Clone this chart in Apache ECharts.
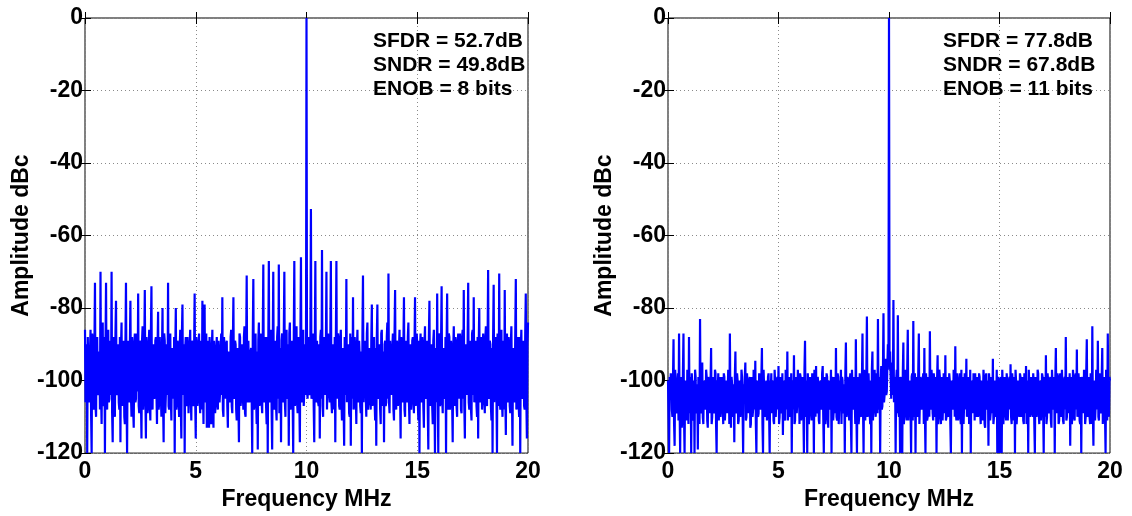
<!DOCTYPE html>
<html>
<head>
<meta charset="utf-8">
<title>ADC output spectrum</title>
<script src="https://cdn.jsdelivr.net/npm/echarts@6/dist/echarts.min.js"></script>
<style>
  html, body { margin: 0; padding: 0; background: #ffffff; }
  #chart { width: 1132px; height: 516px; }
</style>
</head>
<body>
<div id="chart"></div>
<script>
// FFT bin spacing of both spectra (MHz); 801 bins cover 0 .. 20 MHz
const BIN_MHZ = 0.025;
const xTickLabels = [0, 5, 10, 15, 20];
const yTickLabels = [0, -20, -40, -60, -80, -100, -120];

// Spectrum 1: amplitude per bin (dBc), one row = 0.5 MHz
const ampLeft = [
  -86, -106, -104, -90, -120, -88, -88, -104, -106, -92, -86, -109, -120, -87, -90, -105, -108, -91, -73, -107,
  -110, -89, -88, -103, -104, -93, -92, -108, -70, -104, -112, -90, -84, -107, -106, -88, -120, -91, -73, -105,
  -108, -90, -86, -106, -105, -89, -91, -104, -70, -109, -117, -92, -88, -105, -110, -87, -78, -103, -104, -91,
  -90, -106, -108, -88, -117, -91, -84, -107, -103, -89, -94, -110, -112, -90, -73, -104, -120, -92, -89, -105,
  -106, -91, -78, -104, -110, -88, -92, -108, -113, -90, -87, -106, -105, -87, -95, -103, -76, -107, -109, -89,
  -90, -105, -116, -89, -85, -108, -104, -92, -75, -104, -116, -88, -93, -109, -107, -90, -86, -106, -111, -87,
  -74, -107, -108, -90, -91, -105, -104, -89, -88, -103, -112, -91, -81, -108, -106, -88, -94, -104, -110, -92,
  -80, -106, -117, -87, -89, -109, -104, -90, -95, -104, -73, -107, -108, -89, -87, -105, -111, -91, -92, -103,
  -105, -88, -120, -92, -80, -108, -106, -89, -90, -105, -110, -91, -86, -107, -116, -87, -79, -104, -104, -90,
  -120, -91, -88, -106, -107, -88, -93, -109, -103, -90, -86, -104, -111, -89, -90, -107, -106, -92, -76, -105,
  -116, -88, -91, -107, -104, -90, -87, -105, -109, -89, -93, -108, -78, -103, -112, -91, -79, -106, -105, -87,
  -113, -90, -89, -105, -113, -88, -94, -107, -112, -91, -86, -104, -113, -89, -92, -109, -106, -92, -88, -106,
  -108, -89, -95, -106, -103, -91, -87, -104, -77, -108, -110, -88, -91, -105, -105, -90, -89, -107, -113, -92,
  -93, -104, -106, -88, -86, -107, -109, -90, -77, -105, -104, -89, -90, -108, -111, -91, -92, -106, -117, -87,
  -88, -107, -105, -90, -94, -104, -108, -88, -85, -109, -110, -91, -71, -105, -106, -89, -89, -106, -103, -92,
  -91, -105, -120, -88, -72, -108, -107, -90, -87, -104, -112, -92, -119, -89, -84, -107, -105, -87, -90, -106,
  -109, -89, -68, -105, -106, -91, -88, -107, -112, -88, -120, -90, -67, -106, -104, -87, -86, -108, -119, -92,
  -70, -104, -108, -90, -89, -107, -111, -88, -85, -105, -68, -109, -106, -91, -117, -89, -87, -106, -103, -87,
  -70, -106, -110, -88, -86, -104, -105, -90, -118, -87, -84, -108, -107, -91, -89, -105, -120, -89, -67, -107,
  -104, -88, -85, -106, -109, -90, -88, -105, -117, -89, -66, -104, -106, -87, -86, -107, -103, -91, -90, -104,
  0, -103, -105, -89, -88, -104, -102, -90, -52.7, -105, -104, -88, -87, -107, -117, -91, -67, -105, -106, -89,
  -89, -106, -107, -90, -116, -88, -86, -105, -64, -107, -110, -89, -88, -104, -104, -91, -70, -108, -108, -87,
  -87, -104, -106, -89, -67, -106, -109, -91, -90, -108, -103, -88, -117, -90, -67, -105, -105, -87, -89, -107,
  -108, -89, -86, -105, -111, -91, -92, -107, -118, -88, -88, -104, -72, -106, -106, -90, -90, -109, -110, -87,
  -118, -90, -88, -105, -77, -108, -107, -88, -91, -104, -112, -91, -86, -106, -104, -89, -93, -107, -109, -92,
  -120, -88, -71, -106, -106, -90, -89, -104, -110, -87, -84, -108, -105, -91, -92, -105, -108, -89, -79, -107,
  -104, -89, -88, -106, -111, -91, -118, -88, -79, -104, -105, -90, -90, -108, -112, -87, -86, -105, -107, -92,
  -117, -90, -89, -107, -106, -88, -84, -105, -70.5, -106, -109, -89, -93, -104, -104, -91, -87, -108, -111, -87,
  -75, -105, -108, -89, -90, -107, -105, -91, -86, -104, -116, -88, -92, -106, -104, -90, -77, -108, -110, -92,
  -89, -104, -106, -88, -84, -106, -112, -90, -91, -108, -104, -89, -88, -105, -109, -91, -77, -107, -105, -87,
  -90, -106, -111, -89, -120, -91, -87, -104, -106, -88, -93, -107, -113, -90, -85, -105, -104, -92, -89, -108,
  -119, -88, -78, -105, -107, -90, -90, -107, -112, -89, -86, -104, -120, -91, -92, -106, -76, -104, -120, -87,
  -88, -107, -106, -89, -74, -105, -109, -91, -91, -104, -105, -88, -120, -90, -76, -106, -108, -87, -88, -108,
  -104, -89, -92, -106, -117, -91, -85, -104, -107, -88, -90, -107, -110, -90, -87, -105, -105, -87, -93, -108,
  -109, -88, -86, -105, -75, -107, -116, -90, -90, -104, -104, -89, -73, -106, -108, -91, -89, -108, -111, -87,
  -86, -104, -77, -106, -105, -89, -91, -107, -110, -88, -116, -90, -80, -105, -106, -91, -88, -108, -104, -87,
  -92, -105, -109, -88, -85, -106, -107, -90, -69.5, -104, -105, -89, -90, -107, -111, -91, -120, -88, -73.6, -106,
  -106, -90, -88, -104, -120, -87, -92, -107, -70.5, -105, -108, -89, -86, -106, -110, -91, -89, -108, -75, -104,
  -115, -89, -87, -105, -106, -88, -91, -107, -109, -90, -85, -104, -118, -91, -93, -106, -104, -87, -72, -108,
  -107, -90, -88, -106, -110, -88, -120, -91, -86, -104, -105, -89, -91, -107, -108, -87, -76, -105, -116, -90,
  -84
];

// Spectrum 2: amplitude per bin (dBc), one row = 0.5 MHz
const ampRight = [
  -100, -110, -120, -99, -104, -98, -99, -108, -110, -100, -88.6, -112, -118, -97, -101, -109, -108, -101, -98, -111,
  -87, -107, -120, -99, -102, -113, -109, -98, -87, -110, -120, -100, -100, -108, -111, -97, -99, -112, -88, -109,
  -107, -99, -120, -98, -101, -111, -110, -100, -120, -97, -99, -109, -108, -101, -119, -99, -100, -112, -83, -108,
  -109, -98, -95, -110, -112, -100, -102, -108, -107, -97, -99, -111, -113, -99, -101, -109, -106, -101, -91, -112,
  -110, -99, -100, -109, -108, -97, -98, -112, -120, -100, -103, -98, -111, -101, -99, -110, -106, -99, -101, -108,
  -112, -98, -99, -111, -107, -100, -102, -109, -109, -97, -100, -112, -87, -108, -113, -99, -101, -110, -106, -101,
  -117, -99, -92, -109, -108, -98, -100, -112, -111, -100, -102, -110, -106, -97, -99, -108, -120, -101, -103, -99,
  -95, -111, -110, -98, -101, -109, -107, -100, -99, -113, -112, -99, -102, -110, -108, -97, -100, -108, -94.5, -112,
  -120, -100, -101, -110, -109, -98, -99, -108, -106, -99, -91, -112, -120, -97, -102, -109, -110, -101, -100, -111,
  -107, -99, -98, -109, -120, -100, -103, -98, -109, -101, -100, -111, -112, -97, -101, -110, -106, -100, -99, -108,
  -96, -112, -110, -99, -102, -109, -108, -98, -115, -100, -100, -110, -111, -97, -101, -108, -92, -111, -107, -99,
  -99, -110, -109, -98, -120, -100, -102, -108, -93, -112, -111, -99, -100, -109, -106, -97, -103, -101, -112, -98,
  -99, -111, -107, -99, -101, -109, -120, -97, -89, -110, -110, -100, -120, -98, -102, -112, -108, -99, -100, -108,
  -111, -98, -103, -100, -120, -97, -99, -110, -96, -109, -108, -99, -101, -111, -112, -101, -100, -108, -107, -98,
  -96, -110, -120, -99, -102, -112, -109, -98, -99, -109, -113, -100, -101, -108, -106, -97, -120, -99, -100, -111,
  -108, -99, -102, -109, -91, -110, -111, -98, -99, -112, -107, -100, -103, -97, -112, -99, -100, -108, -109, -101,
  -120, -98, -89.5, -110, -108, -99, -100, -109, -111, -100, -98, -111, -120, -97, -102, -108, -107, -99, -99, -112,
  -88.6, -109, -120, -99, -101, -112, -110, -98, -98, -110, -108, -100, -87, -108, -120, -97, -100, -111, -111, -99,
  -82.3, -110, -109, -98, -98, -109, -112, -100, -120, -97, -92, -111, -106, -99, -97, -108, -110, -98, -99, -109,
  -83, -108, -108, -99, -120, -100, -96, -108, -107, -98, -81.4, -106, -104, -97, -94, -104, -103, -96, -90, -96,
  0, -97, -92, -99, -105, -96, -95, -104, -77.8, -106, -106, -99, -120, -100, -97, -109, -82, -108, -110, -99,
  -120, -100, -99, -110, -120, -98, -89.5, -112, -108, -99, -97, -109, -111, -97, -86, -111, -104, -100, -100, -108,
  -120, -99, -98, -111, -83.6, -109, -110, -98, -120, -100, -99, -110, -107, -97, -87, -112, -112, -99, -100, -108,
  -108, -100, -98, -112, -91, -109, -120, -98, -101, -111, -110, -99, -99, -110, -86.4, -108, -106, -97, -101, -109,
  -111, -98, -100, -110, -107, -99, -120, -100, -93, -112, -109, -97, -99, -109, -112, -99, -101, -111, -106, -98,
  -98, -109, -93, -111, -110, -99, -102, -110, -108, -98, -100, -112, -120, -100, -101, -108, -107, -97, -99, -110,
  -90.5, -109, -111, -98, -101, -111, -108, -100, -98, -110, -112, -97, -120, -99, -100, -112, -106, -98, -102, -108,
  -94, -110, -109, -99, -100, -112, -111, -97, -120, -100, -101, -109, -107, -98, -99, -111, -98, -108, -110, -99,
  -101, -110, -108, -98, -99, -109, -112, -100, -102, -111, -106, -97, -100, -112, -113, -99, -98, -108, -107, -100,
  -118, -98, -101, -111, -109, -99, -99, -109, -94, -112, -110, -100, -102, -110, -107, -97, -120, -99, -100, -108,
  -120, -100, -99, -110, -120, -97, -102, -112, -108, -99, -100, -109, -111, -98, -101, -111, -106, -100, -99, -108,
  -95.5, -110, -112, -98, -101, -111, -107, -99, -120, -97, -100, -112, -109, -100, -102, -109, -110, -98, -99, -110,
  -107, -99, -101, -111, -112, -98, -100, -109, -96, -112, -108, -100, -120, -97, -102, -110, -109, -99, -99, -108,
  -110, -98, -101, -112, -120, -99, -100, -110, -107, -97, -98, -109, -112, -100, -102, -111, -106, -98, -99, -108,
  -120, -99, -101, -110, -93, -112, -110, -98, -100, -109, -108, -100, -99, -111, -113, -97, -101, -108, -107, -99,
  -120, -100, -91, -109, -109, -98, -100, -112, -111, -99, -98, -110, -106, -97, -102, -111, -112, -100, -99, -108,
  -88, -111, -110, -99, -101, -109, -107, -98, -118, -100, -99, -112, -109, -97, -100, -110, -111, -99, -98, -108,
  -91.4, -110, -108, -98, -101, -111, -112, -99, -120, -100, -99, -109, -107, -97, -100, -112, -110, -98, -88.6, -110,
  -109, -99, -99, -110, -112, -98, -101, -112, -85, -109, -118, -100, -100, -111, -107, -97, -98, -108, -89, -110,
  -111, -98, -100, -109, -108, -99, -91, -112, -112, -100, -99, -110, -120, -97, -101, -111, -87, -108, -110, -99,
  -100
];

// Measured dynamic figures of each spectrum
const sndrDb = [49.8, 67.8];
const enobBits = [8, 11];

const FONT = '"Liberation Sans", Arial, Helvetica, sans-serif';
const chart = echarts.init(document.getElementById('chart'), null, { renderer: 'canvas' });

// spur-free dynamic range: carrier at 0 dBc, largest remaining bin is the worst spur
function sfdrOf(amps) {
  const sorted = amps.slice().sort((a, b) => b - a);
  return -sorted[1];
}

function toPoints(amps) {
  return amps.map((a, i) => [i * BIN_MHZ, a]);
}

const tickStyle = { show: true, inside: true, length: 6, lineStyle: { color: '#000', width: 1 } };
const labelStyle = { color: '#000', fontFamily: FONT, fontWeight: 'bold', fontSize: 23 };
const gridLine = { show: true, lineStyle: { color: '#8a8a8a', type: [1, 3], width: 1 } };

function xAxisPair(gridIndex) {
  const base = {
    type: 'value', gridIndex,
    min: xTickLabels[0], max: xTickLabels[xTickLabels.length - 1],
    interval: xTickLabels[1] - xTickLabels[0],
    axisLine: { show: false }, axisTick: tickStyle
  };
  return [
    Object.assign({}, base, {
      position: 'bottom',
      name: 'Frequency MHz', nameLocation: 'middle', nameGap: 29,
      nameTextStyle: { color: '#000', fontFamily: FONT, fontWeight: 'bold', fontSize: 23 },
      axisLabel: Object.assign({ margin: 7 }, labelStyle),
      splitLine: gridLine
    }),
    Object.assign({}, base, { position: 'top', axisLabel: { show: false }, splitLine: { show: false } })
  ];
}

function yAxisPair(gridIndex) {
  const base = {
    type: 'value', gridIndex,
    min: yTickLabels[yTickLabels.length - 1], max: yTickLabels[0],
    interval: yTickLabels[0] - yTickLabels[1],
    axisLine: { show: false }, axisTick: tickStyle
  };
  return [
    Object.assign({}, base, {
      position: 'left',
      name: 'Amplitude dBc', nameLocation: 'middle', nameGap: 52, nameRotate: 90,
      nameTextStyle: { color: '#000', fontFamily: FONT, fontWeight: 'bold', fontSize: 23 },
      axisLabel: Object.assign({ margin: 2 }, labelStyle),
      splitLine: gridLine
    }),
    Object.assign({}, base, { position: 'right', axisLabel: { show: false }, splitLine: { show: false } })
  ];
}

function spectrumSeries(amps, axisIndex) {
  return {
    type: 'line',
    xAxisIndex: axisIndex, yAxisIndex: axisIndex,
    data: toPoints(amps),
    showSymbol: false, symbol: 'none',
    sampling: null,
    lineStyle: { color: '#0000ff', width: 2.2 },
    clip: true,
    z: 3
  };
}

function figureText(idx, amps, left) {
  const lines = [
    'SFDR = ' + sfdrOf(amps).toFixed(1) + 'dB',
    'SNDR = ' + sndrDb[idx].toFixed(1) + 'dB',
    'ENOB = ' + enobBits[idx] + ' bits'
  ];
  return lines.map((t, k) => ({
    type: 'text',
    left: left,
    top: 31 + k * 24,
    z: 10,
    style: { text: t, fill: '#000', font: 'bold 21px ' + FONT }
  }));
}

const spectra = [ampLeft, ampRight];

chart.setOption({
  animation: false,
  backgroundColor: '#ffffff',
  grid: [
    { left: 85, right: 604, top: 18, bottom: 58, show: true, borderColor: '#000', borderWidth: 1, backgroundColor: 'transparent' },
    { left: 668, right: 22, top: 18, bottom: 58, show: true, borderColor: '#000', borderWidth: 1, backgroundColor: 'transparent' }
  ],
  xAxis: [].concat(xAxisPair(0), xAxisPair(1)),
  yAxis: [].concat(yAxisPair(0), yAxisPair(1)),
  series: [spectrumSeries(spectra[0], 0), spectrumSeries(spectra[1], 2)],
  graphic: [].concat(figureText(0, spectra[0], 373), figureText(1, spectra[1], 943))
});
</script>
</body>
</html>
